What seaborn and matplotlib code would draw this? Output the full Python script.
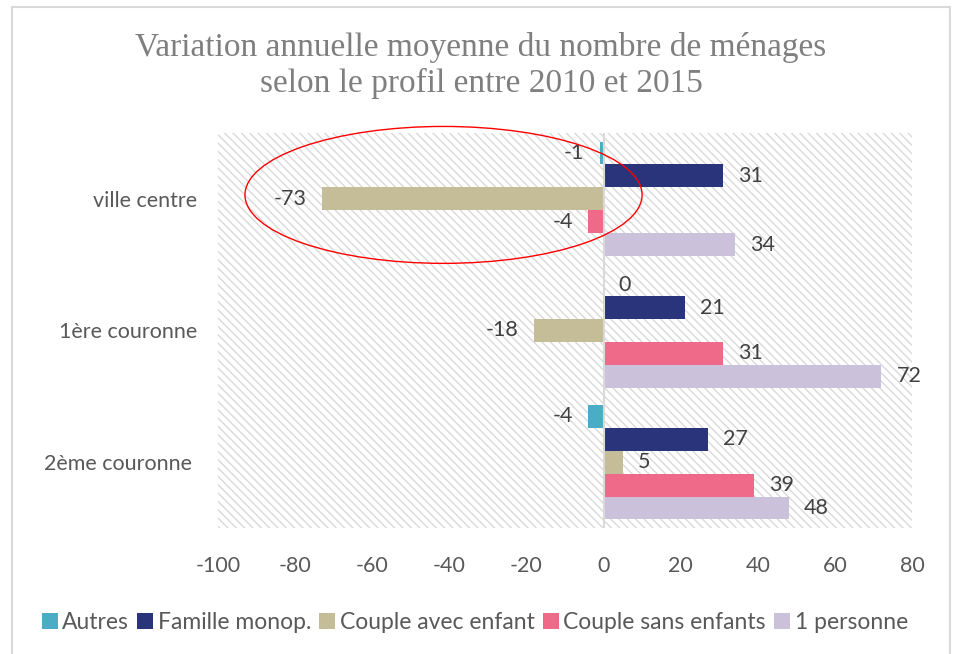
import matplotlib.pyplot as plt
import seaborn as sns
import pandas as pd
from matplotlib.patches import Ellipse, Rectangle

# données
zones = ['ville centre', '1ère couronne', '2ème couronne']
profils = ['Autres', 'Famille monop.', 'Couple avec enfant', 'Couple sans enfants', '1 personne']
autres = [-1, 0, -4]
famille = [31, 21, 27]
couple_avec = [-73, -18, 5]
couple_sans = [-4, 31, 39]
une_personne = [34, 72, 48]
couleurs = ['#4BACC6', '#29347A', '#C4BD97', '#EF6A88', '#CCC1DA']
xticks = [-100, -80, -60, -40, -20, 0, 20, 40, 60, 80]

series = [autres, famille, couple_avec, couple_sans, une_personne]
rows = []
for p, vals in zip(profils, series):
    for z, v in zip(zones, vals):
        rows.append({'zone': z, 'profil': p, 'valeur': v})
df = pd.DataFrame(rows)

sns.set_style('white')
plt.rcParams['font.family'] = ['Lato', 'DejaVu Sans']
plt.rcParams['hatch.color'] = '#D9D9D9'
plt.rcParams['hatch.linewidth'] = 1.0

fig = plt.figure(figsize=(9.62, 6.54), dpi=100)
ax = fig.add_axes([0.2266, 0.1927, 0.7214, 0.6039])

ax.patch.set_hatch('\\\\\\\\')
ax.patch.set_edgecolor('#D9D9D9')
ax.patch.set_facecolor('white')

sns.barplot(data=df, x='valeur', y='zone', hue='profil', order=zones, hue_order=profils,
            palette=couleurs, saturation=1, linewidth=0, orient='h', width=0.87, ax=ax, legend=True)

for c in ax.containers:
    ax.bar_label(c, fmt='%d', padding=11, fontsize=15.5, color='#404040')

ax.axvline(0, color='#D9D9D9', lw=1.5, zorder=1)
ax.set_xlim(-100, 80)
ax.set_xticks(xticks)
ax.set_xticklabels([str(t) for t in xticks])
ax.tick_params(axis='x', labelsize=15.5, labelcolor='#595959', length=0, pad=20)
ax.tick_params(axis='y', labelsize=15.5, labelcolor='#595959', length=0, pad=15)
ax.set_yticklabels(['ville centre', '1ère couronne', '2ème couronne '])
ax.set_xlabel('')
ax.set_ylabel('')
for s in ax.spines.values():
    s.set_visible(False)

# ellipse rouge
ax.add_patch(Ellipse((-41.5, -0.03), 103, 1.04, fill=False, edgecolor='red', lw=1, zorder=5, clip_on=False))

ax.legend(loc='upper center', bbox_to_anchor=(0.37, -0.16), ncol=5, frameon=False,
          fontsize=16.5, handlelength=0.7, handleheight=0.7, handletextpad=0.2,
          columnspacing=0.35, labelcolor='#595959')

fig.text(0.5, 0.9, 'Variation annuelle moyenne du nombre de ménages\nselon le profil entre 2010 et 2015',
         ha='center', va='center', fontsize=24, color='#7F7F7F', family='Liberation Serif',
         linespacing=1.2)

fig.patches.append(Rectangle((12 / 962, -0.1), 938 / 962, 1.09, transform=fig.transFigure,
                             fill=False, edgecolor='#D9D9D9', lw=1.5))

fig.savefig('out.png', dpi=100)
